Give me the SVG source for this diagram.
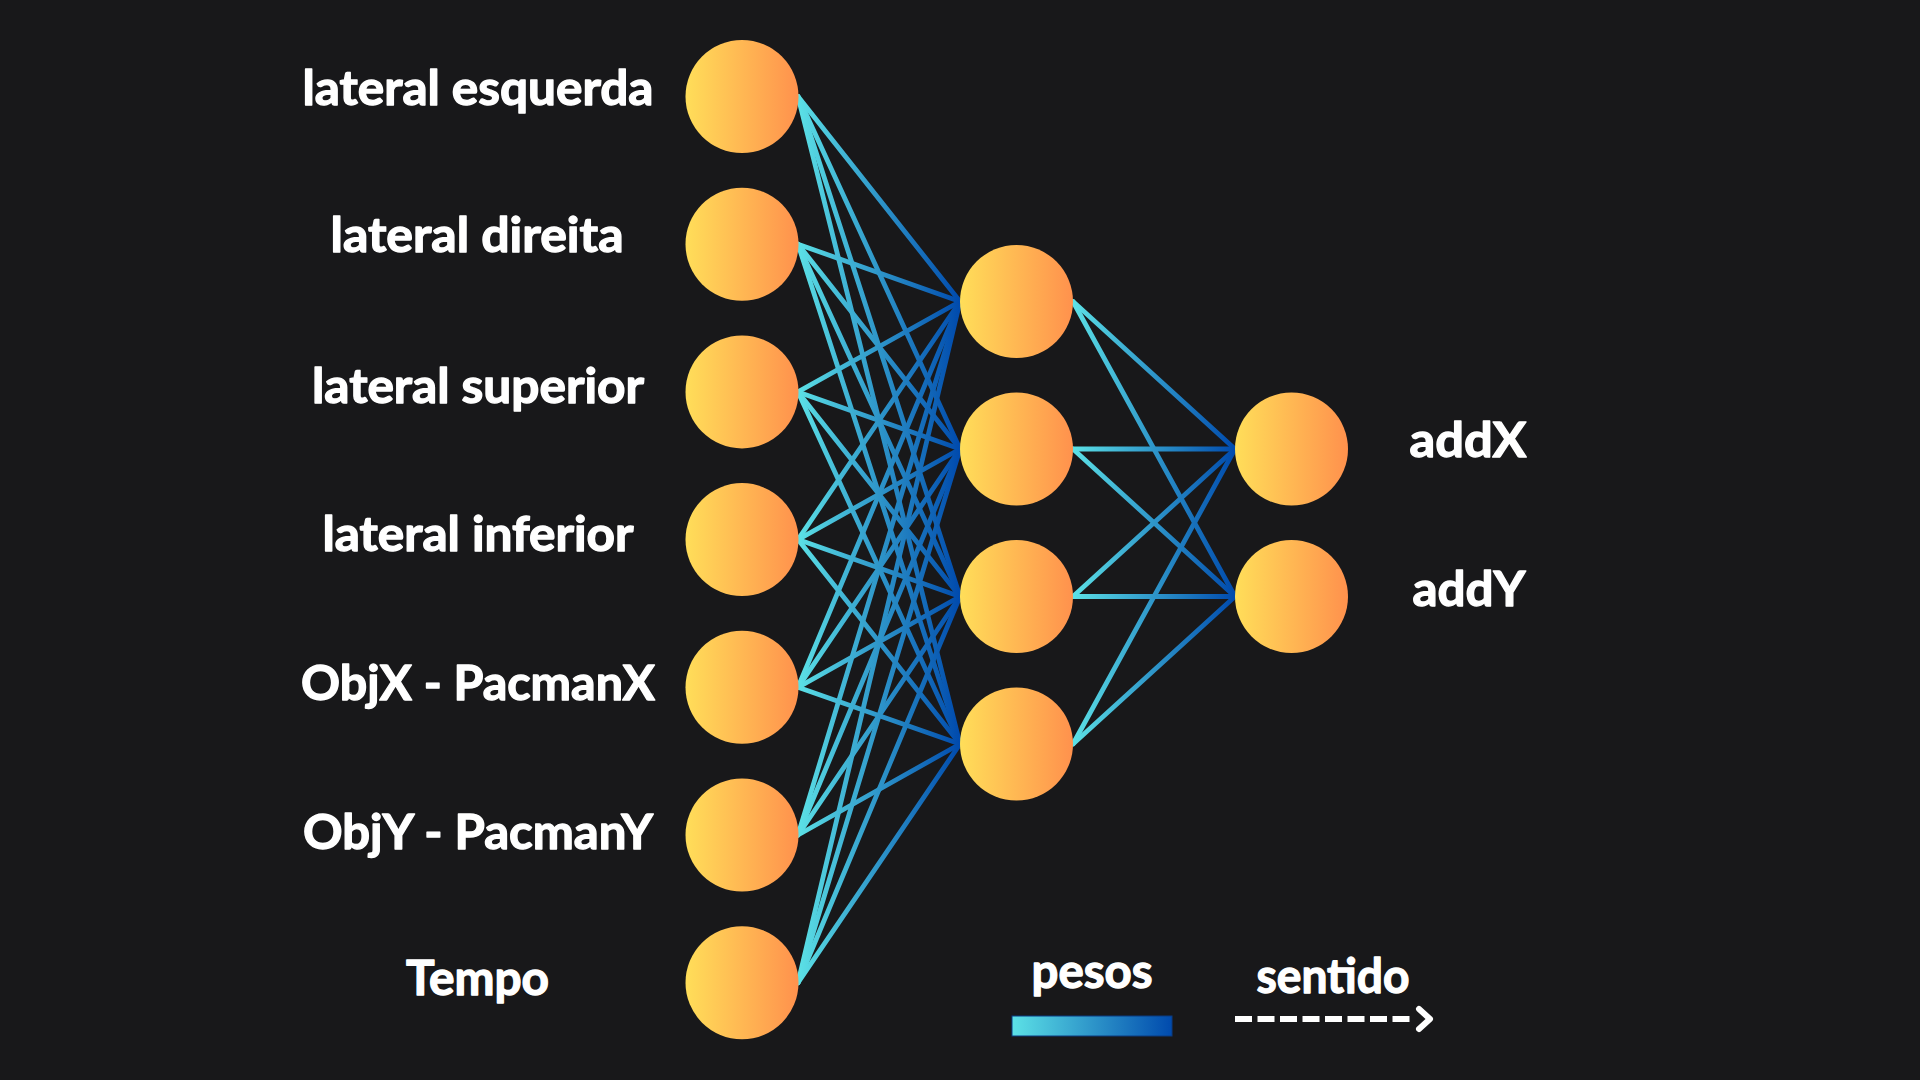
<svg xmlns="http://www.w3.org/2000/svg" width="1920" height="1080" viewBox="0 0 1920 1080">
  <defs>
    <linearGradient id="node" x1="0" y1="0" x2="1" y2="0">
      <stop offset="0" stop-color="#ffde59"/>
      <stop offset="1" stop-color="#ff914d"/>
    </linearGradient>
    <linearGradient id="w1" gradientUnits="userSpaceOnUse" x1="798" y1="0" x2="960" y2="0">
      <stop offset="0" stop-color="#5ce1e6"/>
      <stop offset="1" stop-color="#004aad"/>
    </linearGradient>
    <linearGradient id="w2" gradientUnits="userSpaceOnUse" x1="1073" y1="0" x2="1235" y2="0">
      <stop offset="0" stop-color="#5ce1e6"/>
      <stop offset="1" stop-color="#004aad"/>
    </linearGradient>
    <linearGradient id="leg" gradientUnits="userSpaceOnUse" x1="1012" y1="0" x2="1172" y2="0">
      <stop offset="0" stop-color="#5ce1e6"/>
      <stop offset="1" stop-color="#004aad"/>
    </linearGradient>
    <style>
      .n { fill: url(#node); }
      .e1 { stroke: url(#w1); stroke-width: 4.8; fill: none; stroke-linecap: round; }
      .e2 { stroke: url(#w2); stroke-width: 4.8; fill: none; stroke-linecap: round; }
      .t { font-family: Lato, "Open Sans", "DejaVu Sans", sans-serif; font-weight: 700; font-size: 48px; fill: #ffffff; stroke: #ffffff; stroke-width: 1.3; stroke-linejoin: round; text-anchor: middle; }
    </style>
  </defs>
  <rect width="1920" height="1080" fill="#18181a"/>

  <g id="connectors">
    <g id="layer1">
      <line class="e1" x1="798" y1="96.5" x2="960" y2="301.5"/>
      <line class="e1" x1="798" y1="96.5" x2="960" y2="449"/>
      <line class="e1" x1="798" y1="96.5" x2="960" y2="596.5"/>
      <line class="e1" x1="798" y1="96.5" x2="960" y2="744"/>
      <line class="e1" x1="798" y1="244.2" x2="960" y2="301.5"/>
      <line class="e1" x1="798" y1="244.2" x2="960" y2="449"/>
      <line class="e1" x1="798" y1="244.2" x2="960" y2="596.5"/>
      <line class="e1" x1="798" y1="244.2" x2="960" y2="744"/>
      <line class="e1" x1="798" y1="391.9" x2="960" y2="301.5"/>
      <line class="e1" x1="798" y1="391.9" x2="960" y2="449"/>
      <line class="e1" x1="798" y1="391.9" x2="960" y2="596.5"/>
      <line class="e1" x1="798" y1="391.9" x2="960" y2="744"/>
      <line class="e1" x1="798" y1="539.6" x2="960" y2="301.5"/>
      <line class="e1" x1="798" y1="539.6" x2="960" y2="449"/>
      <line class="e1" x1="798" y1="539.6" x2="960" y2="596.5"/>
      <line class="e1" x1="798" y1="539.6" x2="960" y2="744"/>
      <line class="e1" x1="798" y1="687.3" x2="960" y2="301.5"/>
      <line class="e1" x1="798" y1="687.3" x2="960" y2="449"/>
      <line class="e1" x1="798" y1="687.3" x2="960" y2="596.5"/>
      <line class="e1" x1="798" y1="687.3" x2="960" y2="744"/>
      <line class="e1" x1="798" y1="835" x2="960" y2="301.5"/>
      <line class="e1" x1="798" y1="835" x2="960" y2="449"/>
      <line class="e1" x1="798" y1="835" x2="960" y2="596.5"/>
      <line class="e1" x1="798" y1="835" x2="960" y2="744"/>
      <line class="e1" x1="798" y1="982.7" x2="960" y2="301.5"/>
      <line class="e1" x1="798" y1="982.7" x2="960" y2="449"/>
      <line class="e1" x1="798" y1="982.7" x2="960" y2="596.5"/>
      <line class="e1" x1="798" y1="982.7" x2="960" y2="744"/>
    </g>
    <g id="layer2">
      <line class="e2" x1="1073" y1="301.5" x2="1235" y2="449"/>
      <line class="e2" x1="1073" y1="301.5" x2="1235" y2="596.5"/>
      <line class="e2" x1="1073" y1="449" x2="1235" y2="449"/>
      <line class="e2" x1="1073" y1="449" x2="1235" y2="596.5"/>
      <line class="e2" x1="1073" y1="596.5" x2="1235" y2="449"/>
      <line class="e2" x1="1073" y1="596.5" x2="1235" y2="596.5"/>
      <line class="e2" x1="1073" y1="744" x2="1235" y2="449"/>
      <line class="e2" x1="1073" y1="744" x2="1235" y2="596.5"/>
    </g>
  </g>

  <g id="in1"><circle class="n" cx="742" cy="96.5" r="56.5"/><text class="t" x="478" y="105" textLength="351" lengthAdjust="spacingAndGlyphs">lateral esquerda</text></g>
  <g id="in2"><circle class="n" cx="742" cy="244.2" r="56.5"/><text class="t" x="477" y="252" textLength="293" lengthAdjust="spacingAndGlyphs">lateral direita</text></g>
  <g id="in3"><circle class="n" cx="742" cy="391.9" r="56.5"/><text class="t" x="478" y="402.5" textLength="332" lengthAdjust="spacingAndGlyphs">lateral superior</text></g>
  <g id="in4"><circle class="n" cx="742" cy="539.6" r="56.5"/><text class="t" x="478" y="551" textLength="311" lengthAdjust="spacingAndGlyphs">lateral inferior</text></g>
  <g id="in5"><circle class="n" cx="742" cy="687.3" r="56.5"/><text class="t" x="478" y="700" textLength="354" lengthAdjust="spacingAndGlyphs">ObjX - PacmanX</text></g>
  <g id="in6"><circle class="n" cx="742" cy="835" r="56.5"/><text class="t" x="478" y="849" textLength="350" lengthAdjust="spacingAndGlyphs">ObjY - PacmanY</text></g>
  <g id="in7"><circle class="n" cx="742" cy="982.7" r="56.5"/><text class="t" x="477.5" y="995" textLength="143" lengthAdjust="spacingAndGlyphs">Tempo</text></g>

  <g id="h1"><circle class="n" cx="1016.5" cy="301.5" r="56.5"/></g>
  <g id="h2"><circle class="n" cx="1016.5" cy="449" r="56.5"/></g>
  <g id="h3"><circle class="n" cx="1016.5" cy="596.5" r="56.5"/></g>
  <g id="h4"><circle class="n" cx="1016.5" cy="744" r="56.5"/></g>

  <g id="out1"><circle class="n" cx="1291.5" cy="449" r="56.5"/><text class="t" x="1468" y="457" textLength="117" lengthAdjust="spacingAndGlyphs">addX</text></g>
  <g id="out2"><circle class="n" cx="1291.5" cy="596.5" r="56.5"/><text class="t" x="1469" y="606" textLength="113" lengthAdjust="spacingAndGlyphs">addY</text></g>

  <g id="legend-pesos">
    <text class="t" x="1092" y="988" textLength="121" lengthAdjust="spacingAndGlyphs">pesos</text>
    <rect x="1012" y="1016" width="160" height="20" fill="url(#leg)" stroke="#0a3a80" stroke-width="1"/>
  </g>
  <g id="legend-sentido">
    <text class="t" x="1333" y="992.5" textLength="153" lengthAdjust="spacingAndGlyphs">sentido</text>
    <line x1="1235" y1="1019" x2="1414" y2="1019" stroke="#ffffff" stroke-width="6" stroke-dasharray="17 5.5"/>
    <polyline points="1419,1009 1430,1019 1419,1029" fill="none" stroke="#ffffff" stroke-width="6" stroke-linecap="round" stroke-linejoin="round"/>
  </g>
</svg>
